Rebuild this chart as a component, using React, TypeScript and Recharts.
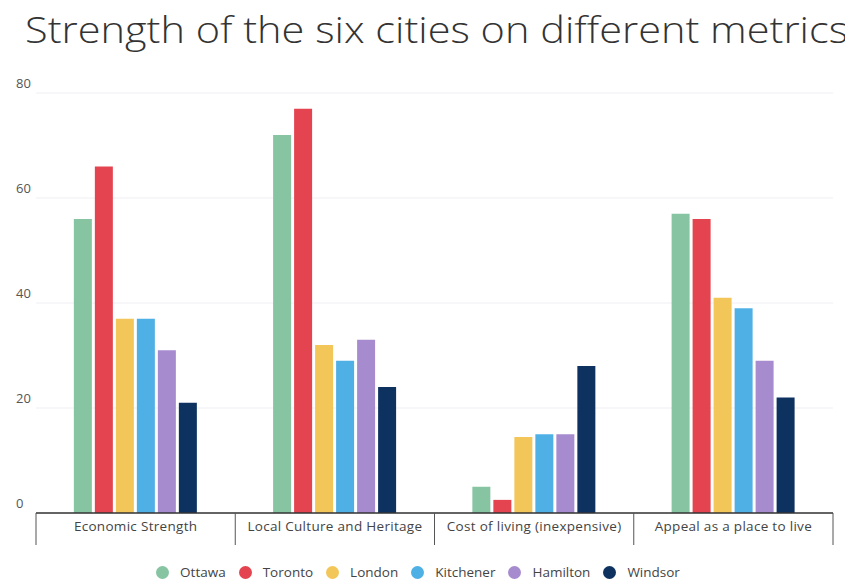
import React from "react";
import { BarChart, Bar, XAxis, YAxis, CartesianGrid, Legend } from "recharts";

const metrics = [
  "Economic Strength",
  "Local Culture and Heritage",
  "Cost of living (inexpensive)",
  "Appeal as a place to live",
];

const cities = ["Ottawa", "Toronto", "London", "Kitchener", "Hamilton", "Windsor"];
const cityColors = ["#86C4A2", "#E3444F", "#F3C65A", "#4FB0E6", "#A78BCF", "#0E3260"];

const ottawa = [56, 72, 5, 57];
const toronto = [66, 77, 2.5, 56];
const london = [37, 32, 14.5, 41];
const kitchener = [37, 29, 15, 39];
const hamilton = [31, 33, 15, 29];
const windsor = [21, 24, 28, 22];

const yTicks = [0, 20, 40, 60, 80];

const seriesValues = [ottawa, toronto, london, kitchener, hamilton, windsor];

const data = metrics.map((metric, i) => {
  const row: any = { metric };
  cities.forEach((city, c) => {
    row[city] = seriesValues[c][i];
  });
  return row;
});

const FONT = "'Open Sans', 'Noto Sans', sans-serif";

const CategoryTick = (props: any) => {
  const { x, y, payload, index, visibleTicksCount } = props;
  const half = payload.offset || 0;
  const isLast = index === visibleTicksCount - 1;
  return (
    <g>
      <line x1={x - half} x2={x - half} y1={y} y2={y + 32} stroke="#555" strokeWidth={1} />
      {isLast && <line x1={x + half} x2={x + half} y1={y} y2={y + 32} stroke="#555" strokeWidth={1} />}
      <text
        x={x}
        y={y + 13}
        textAnchor="middle"
        dominantBaseline="central"
        fontSize={13.5}
        letterSpacing={0.3}
        fontFamily={FONT}
        fill="#444"
      >
        {payload.value}
      </text>
    </g>
  );
};

const ValueTick = (props: any) => {
  const { y, payload } = props;
  return (
    <text
      x={16}
      y={y - 10}
      textAnchor="start"
      dominantBaseline="central"
      fontSize={13}
      fontFamily={FONT}
      fill="#555"
    >
      {payload.value}
    </text>
  );
};

const CityLegend = () => (
  <div
    style={{
      display: "flex",
      justifyContent: "center",
      alignItems: "center",
      height: 24,
      paddingRight: 4,
      fontFamily: FONT,
      fontSize: 13.5,
      color: "#444",
    }}
  >
    {cities.map((city, i) => (
      <div key={city} style={{ display: "flex", alignItems: "center", marginRight: 13 }}>
        <span
          style={{
            width: 13,
            height: 13,
            borderRadius: "50%",
            background: cityColors[i],
            display: "inline-block",
            marginRight: 11,
          }}
        />
        <span>{city}</span>
      </div>
    ))}
  </div>
);

export default function App() {
  return (
    <div style={{ position: "relative", width: 853, height: 587, margin: -8, background: "#fff" }}>
      <svg width={853} height={60} style={{ position: "absolute", left: 0, top: 0 }}>
        <text
          x={25}
          y={43}
          fontSize={37}
          fontFamily={FONT}
          fontWeight={300}
          fill="#333"
          textLength={823}
          lengthAdjust="spacingAndGlyphs"
        >
          Strength of the six cities on different metrics
        </text>
      </svg>
      <BarChart
        width={853}
        height={587}
        data={data}
        margin={{ top: 93, right: 20, left: 0, bottom: 3 }}
        barCategoryGap="19%"
        barGap={3}
      >
        <CartesianGrid vertical={false} stroke="#efeff3" />
        <XAxis
          dataKey="metric"
          height={47}
          axisLine={{ stroke: "#333", strokeWidth: 1.5 }}
          tickLine={false}
          tickSize={0}
          tickMargin={0}
          interval={0}
          tick={<CategoryTick />}
        />
        <YAxis
          width={36}
          domain={[0, 80]}
          ticks={yTicks}
          axisLine={false}
          tickLine={false}
          tick={<ValueTick />}
        />
        <Legend verticalAlign="bottom" content={<CityLegend />} wrapperStyle={{ left: 0, width: 853 }} />
        {cities.map((city, i) => (
          <Bar key={city} dataKey={city} fill={cityColors[i]} isAnimationActive={false} />
        ))}
      </BarChart>
    </div>
  );
}
